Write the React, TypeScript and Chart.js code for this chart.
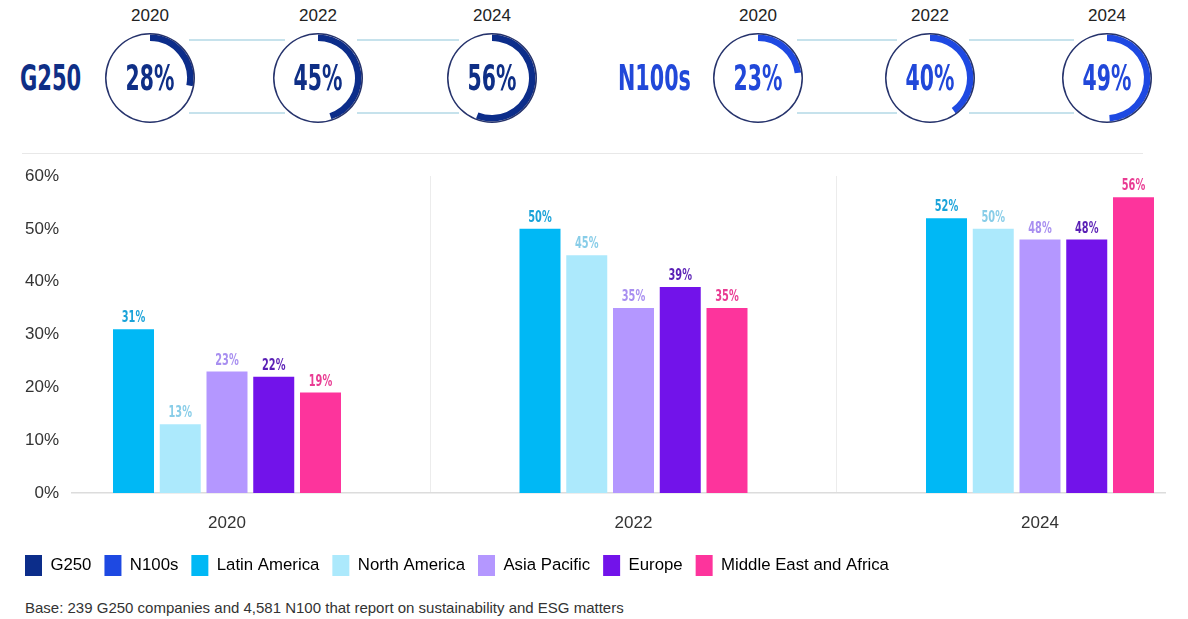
import React, { useEffect, useRef } from "react";
import { Chart, registerables } from "chart.js";

Chart.register(...registerables);

// ---------- data ----------
const years = ["2020", "2022", "2024"];
const g250Share = [28, 45, 56];
const n100Share = [23, 40, 49];
const regionNames = ["Latin America", "North America", "Asia Pacific", "Europe", "Middle East and Africa"];
const latinAmerica = [31, 50, 52];
const northAmerica = [13, 45, 50];
const asiaPacific = [23, 35, 48];
const europe = [22, 39, 48];
const middleEastAfrica = [19, 35, 56];
const yTickValues = [0, 10, 20, 30, 40, 50, 60];
const footnote = "Base: 239 G250 companies and 4,581 N100 that report on sustainability and ESG matters";

// ---------- styles ----------
const G250_COLOR = "#0c2d8a";
const N100_COLOR = "#1e49e2";
const RING_COLOR = "#26336c";
const regionColors = ["#00b8f5", "#ace9fc", "#b497ff", "#7213ea", "#fd349c"];
const labelColors = ["#1aa3d9", "#88cde8", "#a88ff0", "#5a1fb5", "#e93c93"];
const SANS = "'Liberation Sans', Arial, sans-serif";
const NARROW = "'Liberation Sans Narrow', 'DejaVu Sans Condensed', sans-serif";

function Gauge(props: { value: number; color: string; cx: number; cy: number }) {
  const { value, color, cx, cy } = props;
  const ref = useRef<HTMLCanvasElement>(null);
  const size = 90;
  useEffect(() => {
    const chart = new Chart(ref.current as HTMLCanvasElement, {
      type: "doughnut",
      data: {
        datasets: [
          { data: [100], backgroundColor: [RING_COLOR], borderWidth: 0, hoverOffset: 0, weight: 1 } as any,
          {
            data: [value, 100 - value],
            backgroundColor: [color, "rgba(0,0,0,0)"],
            borderWidth: 0,
            hoverOffset: 0,
            weight: 4.3,
          } as any,
        ],
      },
      options: {
        responsive: false,
        animation: false,
        events: [],
        cutout: 37,
        layout: { padding: 0 },
        elements: { arc: { borderWidth: 0 } },
        plugins: { legend: { display: false }, tooltip: { enabled: false } },
      } as any,
    });
    return () => chart.destroy();
  }, [value, color]);
  return (
    <canvas
      ref={ref}
      width={size}
      height={size}
      style={{ position: "absolute", left: cx - size / 2, top: cy - size / 2, width: size, height: size }}
    />
  );
}

const valueLabelPlugin = {
  id: "valueLabels",
  afterDatasetsDraw(chart: any) {
    const ctx = chart.ctx as CanvasRenderingContext2D;
    chart.data.datasets.forEach((ds: any, di: number) => {
      const meta = chart.getDatasetMeta(di);
      meta.data.forEach((bar: any, i: number) => {
        const v = ds.data[i].y;
        ctx.save();
        ctx.translate(bar.x, bar.y - 11);
        ctx.scale(0.68, 1);
        ctx.font = `bold 16px ${NARROW}`;
        ctx.fillStyle = labelColors[di];
        ctx.textAlign = "center";
        ctx.textBaseline = "middle";
        ctx.fillText(`${v}%`, 0, 0);
        ctx.restore();
      });
    });
  },
};

function BarChart() {
  const ref = useRef<HTMLCanvasElement>(null);
  useEffect(() => {
    const series = [latinAmerica, northAmerica, asiaPacific, europe, middleEastAfrica];
    const xMin = -0.3813;
    const xMax = 2.3075;
    const datasets = series.map((vals, i) => ({
      label: regionNames[i],
      data: vals.map((v, j) => ({ x: j, y: v })),
      backgroundColor: regionColors[i],
      borderWidth: 0,
      categoryPercentage: 0.575,
      barPercentage: 0.877,
      xAxisID: "x",
      yAxisID: "y",
    }));
    const legendItems = [
      { text: "G250", color: G250_COLOR },
      { text: "N100s", color: N100_COLOR },
      ...regionNames.map((n, i) => ({ text: n, color: regionColors[i] })),
    ];
    const chart = new Chart(ref.current as HTMLCanvasElement, {
      type: "bar",
      data: { datasets },
      options: {
        responsive: false,
        animation: false,
        events: [],
        layout: { padding: { top: 26, left: 12, right: 23, bottom: 0 } },
        scales: {
          x: {
            type: "linear",
            bounds: "data",
            offset: false,
            min: xMin,
            max: xMax,
            grid: { display: false, drawTicks: false, offset: false },
            border: { display: true, color: "#dcdcdc", width: 1.5 },
            ticks: {
              padding: 20,
              color: "#333333",
              font: { family: SANS, size: 17 },
              callback: (v: any) => years[v] ?? "",
            },
            afterBuildTicks: (s: any) => {
              s.ticks = years.map((_, i) => ({ value: i }));
            },
            afterFit: (s: any) => {
              s.height = 49;
            },
          },
          xg: {
            type: "linear",
            position: "top",
            bounds: "data",
            offset: false,
            min: xMin,
            max: xMax,
            grid: { display: true, color: "#ececec", lineWidth: 1, drawTicks: false, offset: false },
            ticks: { display: false },
            border: { display: false },
            afterBuildTicks: (s: any) => {
              s.ticks = [{ value: 0.5 }, { value: 1.5 }];
            },
            afterFit: (s: any) => {
              s.height = 0;
            },
          },
          y: {
            type: "linear",
            min: 0,
            max: 60,
            grid: { display: false, drawTicks: false },
            border: { display: false },
            ticks: {
              padding: 13,
              color: "#333333",
              font: { family: SANS, size: 17 },
              callback: (v: any) => `${v}%`,
            },
            afterBuildTicks: (s: any) => {
              s.ticks = yTickValues.map((v) => ({ value: v }));
            },
            afterFit: (s: any) => {
              s.width = 60;
            },
          },
        },
        plugins: {
          tooltip: { enabled: false },
          legend: {
            position: "bottom",
            align: "start",
            onClick: () => {},
            labels: {
              boxWidth: 17,
              boxHeight: 21,
              padding: 13,
              color: "#222222",
              font: { family: SANS, size: 16.8 },
              generateLabels: () =>
                legendItems.map((it, i) => ({
                  text: it.text,
                  fillStyle: it.color,
                  strokeStyle: it.color,
                  lineWidth: 0,
                  hidden: false,
                  datasetIndex: i,
                })),
            },
          },
        },
      } as any,
      plugins: [valueLabelPlugin],
    });
    return () => chart.destroy();
  }, []);
  return (
    <canvas
      ref={ref}
      width={1188}
      height={436}
      style={{ position: "absolute", left: 0, top: 150, width: 1188, height: 436 }}
    />
  );
}

const g250Centers = [150, 318, 492];
const n100Centers = [758, 930, 1107];
const CY = 78;

function GaugeRow(props: {
  label: string;
  labelX: number;
  labelScale: number;
  values: number[];
  centers: number[];
  color: string;
  textColor: string;
}) {
  const { label, labelX, labelScale, values, centers, color, textColor } = props;
  return (
    <>
      <div
        style={{
          position: "absolute",
          left: labelX,
          top: CY - 22,
          height: 44,
          lineHeight: "44px",
          fontFamily: NARROW,
          fontWeight: 700,
          fontSize: 36,
          color: textColor,
          transform: `scaleX(${labelScale})`,
          transformOrigin: "left center",
          whiteSpace: "nowrap",
        }}
      >
        {label}
      </div>
      {centers.slice(0, -1).map((c, i) => (
        <React.Fragment key={"l" + i}>
          <div style={{ position: "absolute", left: c + 39, top: 39, width: centers[i + 1] - c - 72, height: 2, background: "#c6e2ec" }} />
          <div style={{ position: "absolute", left: c + 39, top: 112, width: centers[i + 1] - c - 72, height: 2, background: "#c6e2ec" }} />
        </React.Fragment>
      ))}
      {centers.map((c, i) => (
        <React.Fragment key={"g" + i}>
          <div
            style={{
              position: "absolute",
              left: c - 40,
              width: 80,
              top: 5,
              textAlign: "center",
              fontFamily: SANS,
              fontSize: 17,
              lineHeight: "22px",
              color: "#222",
            }}
          >
            {years[i]}
          </div>
          <Gauge value={values[i]} color={color} cx={c} cy={CY} />
          <div
            style={{
              position: "absolute",
              left: c - 45,
              width: 90,
              top: CY - 22,
              height: 44,
              lineHeight: "44px",
              textAlign: "center",
              fontFamily: NARROW,
              fontWeight: 700,
              fontSize: 36,
              color: textColor,
              transform: "scaleX(0.63)",
              whiteSpace: "nowrap",
            }}
          >
            {values[i]}%
          </div>
        </React.Fragment>
      ))}
    </>
  );
}

export default function App() {
  return (
    <div
      style={{
        position: "absolute",
        left: 0,
        top: 0,
        width: 1188,
        height: 619,
        background: "#ffffff",
        overflow: "hidden",
      }}
    >
      <GaugeRow label="G250" labelX={20} labelScale={0.65} values={g250Share} centers={g250Centers} color={G250_COLOR} textColor="#0f2f86" />
      <GaugeRow label="N100s" labelX={618} labelScale={0.64} values={n100Share} centers={n100Centers} color={N100_COLOR} textColor="#2148d9" />
      <div style={{ position: "absolute", left: 22, top: 153, width: 1121, height: 1, background: "#e8e8e8" }} />
      <BarChart />
      <div
        style={{
          position: "absolute",
          left: 25,
          top: 599,
          fontFamily: SANS,
          fontSize: 15,
          lineHeight: "18px",
          color: "#333",
          whiteSpace: "nowrap",
        }}
      >
        {footnote}
      </div>
    </div>
  );
}
